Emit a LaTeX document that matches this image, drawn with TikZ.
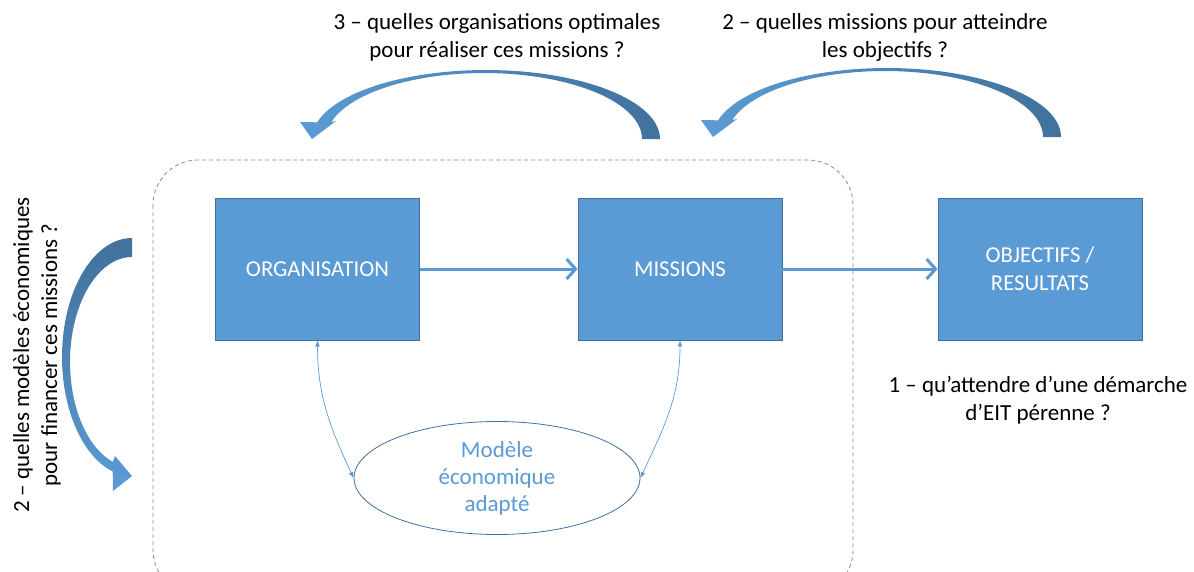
\documentclass[tikz,border=0pt]{standalone}
\usepackage{fontspec}
\setmainfont{Carlito}
\usetikzlibrary{arrows.meta,shapes.geometric}
\definecolor{boxblue}{HTML}{5B9BD5}
\definecolor{darkblue}{HTML}{41719C}
\begin{document}
\begin{tikzpicture}[x=1pt,y=-1pt,
  box/.style={draw=darkblue, line width=0.8pt, fill=boxblue, minimum width=204pt, minimum height=142pt, text=white, align=center, font=\fontsize{22.7}{28}\selectfont, inner sep=0pt},
  qtext/.style={align=center, font=\fontsize{23}{28}\selectfont, text=black, inner sep=0pt},
  flow/.style={draw=boxblue, line width=3pt, -{Straight Barb[length=9pt,width=20pt]}},
  link/.style={draw=boxblue, line width=0.7pt, {Latex[length=6pt,width=5pt]}-{Latex[length=6pt,width=5pt]}},
  blockarrow/.style={left color=boxblue, right color=darkblue},
]
\clip (0,0) rectangle (1194,571);

% dashed frame
\draw[darkblue!75, line width=0.8pt, dash pattern=on 4pt off 3pt, rounded corners=45pt] (153,160) rectangle (853,595);

% boxes
\node[box] (org) at (317.5,269) {ORGANISATION};
\node[box] (mis) at (680,269) {MISSIONS};
\node[box] (obj) at (1040,269) {OBJECTIFS /\\RESULTATS};

% ellipse
\node[ellipse, draw=darkblue, line width=0.8pt, fill=white, minimum width=286pt, minimum height=113pt, text=boxblue, align=center, font=\fontsize{23}{27}\selectfont, inner sep=0pt] (eco) at (497,478) {Modèle\\économique\\adapté};

% connectors
\draw[flow] (org) -- (mis);
\draw[flow] (mis) -- (obj);
\draw[link] (org.south) to[out=-90,in=115] (eco.west);
\draw[link] (mis.south) to[out=-90,in=65] (eco.east);

% curved block arrow (top middle)
\shade[blockarrow]
  plot[domain=0:166,samples=60] ({486+174*cos(\x)},{139-69*sin(\x)})
  -- (300,122) -- (312,139) -- (336,121)
  -- plot[domain=165:0,samples=60] ({484+158*cos(\x)},{139-66*sin(\x)}) -- cycle;

% curved block arrow (top right)
\begin{scope}[shift={(401,-2)}]
\shade[blockarrow]
  plot[domain=0:166,samples=60] ({486+174*cos(\x)},{139-69*sin(\x)})
  -- (300,122) -- (312,139) -- (336,121)
  -- plot[domain=165:0,samples=60] ({484+158*cos(\x)},{139-66*sin(\x)}) -- cycle;
\end{scope}

% curved block arrow (left)
\shade[top color=darkblue, bottom color=boxblue]
  plot[domain=0:164,samples=60] ({132-70*sin(\x)},{357-119*cos(\x)})
  -- (113,491) -- (132,476) -- (115,456)
  -- plot[domain=162:0,samples=60] ({132-62*sin(\x)},{362-105*cos(\x)}) -- cycle;

% questions
\node[qtext] (q3) at (497,37) {3 – quelles organisations optimales\\pour réaliser ces missions ?};
\node[qtext] (q2) at (885,37) {2 – quelles missions pour atteindre\\les objectifs ?};
\node[qtext] (q1) at (1038,400) {1 – qu’attendre d’une démarche\\d’EIT pérenne ?};
\node[qtext, rotate=90] (q2b) at (37,355) {2 – quelles modèles économiques\\pour financer ces missions ?};
\end{tikzpicture}
\end{document}
